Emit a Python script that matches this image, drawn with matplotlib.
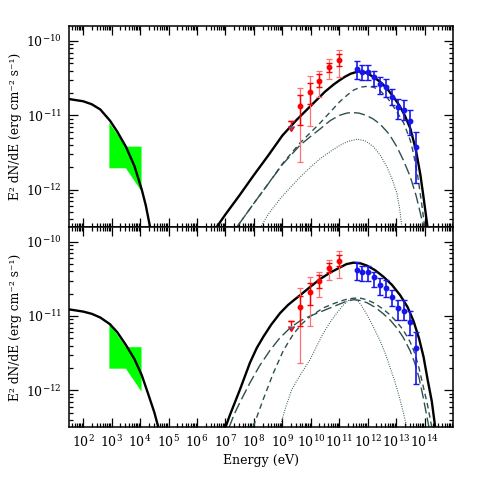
import numpy as np
import matplotlib
matplotlib.use('Agg')
from matplotlib import pyplot as plt
from matplotlib.ticker import FixedLocator, NullFormatter, LogFormatterSciNotation

plt.rcParams['font.family'] = 'DejaVu Serif'
plt.rcParams['mathtext.fontset'] = 'dejavuserif'

# everything stored as log10(E/eV), log10(E^2 dN/dE / erg cm-2 s-1)

# X-ray band (green)
xray_logE = [2.92, 3.5, 4.05, 4.05, 3.5, 2.92]
xray_logF = [-11.10, -11.42, -11.42, -12.02, -11.71, -11.71]

# Fermi points (red): value, inner (stat) and outer (sys) bounds
fermi_logE = [9.63, 9.96, 10.30, 10.65, 10.99]
fermi_logF = [-10.88, -10.68, -10.533, -10.353, -10.255]
fermi_stat_lo = [-11.13, -10.85, -10.62, -10.41, -10.33]
fermi_stat_hi = [-10.725, -10.56, -10.443, -10.291, -10.179]
fermi_sys_lo = [-11.63, -11.14, -10.75, -10.51, -10.49]
fermi_sys_hi = [-10.627, -10.47, -10.407, -10.246, -10.121]
ul_logE = [9.30]
ul_logF = [-11.07]

# TeV points (blue)
tev_logE = [11.61, 11.80, 12.01, 12.22, 12.44, 12.65, 12.86, 13.07, 13.28, 13.49, 13.70]
tev_logF = [-10.38, -10.41, -10.41, -10.48, -10.58, -10.62, -10.75, -10.89, -10.93, -11.08, -11.43]
tev_lo = [-10.51, -10.53, -10.53, -10.61, -10.71, -10.75, -10.86, -11.05, -11.06, -11.26, -11.91]
tev_hi = [-10.27, -10.32, -10.32, -10.40, -10.49, -10.51, -10.65, -10.78, -10.79, -10.93, -11.22]

# model A (upper panel)
syncA_logE = [1.5, 2.0, 2.3, 2.6, 2.94, 3.2, 3.5, 3.8, 4.06, 4.2, 4.35]
syncA_logF = [-10.78, -10.81, -10.85, -10.92, -11.07, -11.22, -11.42, -11.68, -12.0, -12.21, -12.5]
totA_logE = [6.69, 7.0, 7.5, 8.0, 8.5, 9.0, 9.5, 10.0, 10.5, 10.8, 11.0, 11.2, 11.4, 11.66,
             11.9, 12.1, 12.3, 12.5, 12.7, 12.9, 13.1, 13.3, 13.5, 13.7, 13.85, 13.96, 14.1]
totA_logF = [-12.5, -12.33, -12.07, -11.8, -11.54, -11.27, -11.06, -10.87, -10.68, -10.585,
             -10.53, -10.48, -10.44, -10.41, -10.42, -10.46, -10.51, -10.57, -10.65, -10.75,
             -10.86, -11.0, -11.18, -11.48, -11.8, -12.1, -12.5]
shortA_logE = [7.4, 8.0, 8.5, 9.0, 9.62, 10.33, 11.03, 11.3, 11.5, 11.75, 11.97, 12.2, 12.44,
               12.7, 12.9, 13.1, 13.26, 13.49, 13.6, 13.75, 13.9, 14.0]
shortA_logF = [-12.5, -12.18, -11.92, -11.65, -11.37, -11.1, -10.81, -10.72, -10.66, -10.62,
               -10.61, -10.62, -10.67, -10.77, -10.88, -11.0, -11.1, -11.33, -11.5, -11.8,
               -12.2, -12.5]
longA_logE = [7.4, 8.0, 8.5, 9.0, 9.62, 10.0, 10.33, 10.68, 11.0, 11.25, 11.45, 11.7, 11.95,
              12.2, 12.44, 12.75, 13.02, 13.25, 13.49, 13.7, 13.84, 13.96]
longA_logF = [-12.5, -12.18, -11.92, -11.66, -11.4, -11.28, -11.18, -11.07, -11.0, -10.97,
              -10.96, -10.97, -11.0, -11.05, -11.12, -11.25, -11.42, -11.6, -11.82, -12.08,
              -12.3, -12.5]
dotA_logE = [8.22, 8.5, 8.92, 9.3, 9.62, 10.0, 10.33, 10.7, 11.03, 11.3, 11.62, 11.9, 12.2,
             12.45, 12.67, 12.85, 13.02, 13.12, 13.2]
dotA_logF = [-12.51, -12.33, -12.12, -11.96, -11.83, -11.69, -11.58, -11.48, -11.40, -11.35,
             -11.32, -11.34, -11.42, -11.54, -11.69, -11.85, -12.04, -12.25, -12.51]

# model B (lower panel)
syncB_logE = [1.5, 2.0, 2.3, 2.6, 2.94, 3.2, 3.5, 3.8, 4.06, 4.3, 4.5, 4.64]
syncB_logF = [-10.91, -10.94, -10.97, -11.02, -11.11, -11.22, -11.39, -11.58, -11.8, -12.07,
              -12.3, -12.5]
totB_logE = [7.0, 7.16, 7.51, 7.86, 8.1, 8.33, 8.6, 8.92, 9.2, 9.39, 9.62, 10.0, 10.33, 10.7,
             11.0, 11.25, 11.5, 11.75, 11.97, 12.25, 12.55, 12.85, 13.14, 13.4, 13.61, 13.8,
             13.96, 14.1, 14.25, 14.37]
totB_logF = [-12.5, -12.33, -11.99, -11.63, -11.43, -11.28, -11.12, -10.96, -10.85, -10.79,
             -10.72, -10.6, -10.5, -10.41, -10.35, -10.3, -10.28, -10.29, -10.32, -10.38,
             -10.47, -10.58, -10.72, -10.88, -11.07, -11.3, -11.55, -11.85, -12.15, -12.5]
shortB_logE = [7.98, 8.33, 8.68, 9.04, 9.39, 9.7, 10.0, 10.44, 10.75, 11.03, 11.3, 11.5, 11.75,
               11.97, 12.25, 12.55, 12.8, 13.02, 13.25, 13.49, 13.65, 13.8, 13.95, 14.1, 14.25]
shortB_logF = [-12.49, -12.12, -11.77, -11.46, -11.24, -11.1, -11.0, -10.89, -10.84, -10.8,
               -10.77, -10.76, -10.76, -10.78, -10.83, -10.91, -10.99, -11.08, -11.19, -11.35,
               -11.5, -11.7, -11.95, -12.2, -12.5]
longB_logE = [7.13, 7.3, 7.5, 7.86, 8.2, 8.57, 8.9, 9.27, 9.6, 9.97, 10.3, 10.68, 11.0, 11.26,
              11.5, 11.75, 11.97, 12.25, 12.55, 12.8, 13.02, 13.25, 13.49, 13.65, 13.8, 13.95,
              14.05, 14.15]
longB_logF = [-12.5, -12.33, -12.17, -11.9, -11.67, -11.46, -11.3, -11.16, -11.07, -11.0,
              -10.95, -10.89, -10.84, -10.8, -10.78, -10.79, -10.82, -10.88, -10.97, -11.06,
              -11.16, -11.29, -11.47, -11.63, -11.83, -12.1, -12.3, -12.5]
dotB_logE = [8.92, 9.1, 9.33, 9.65, 9.97, 10.2, 10.44, 10.7, 10.91, 11.1, 11.26, 11.4, 11.56,
             11.75, 11.97, 12.2, 12.44, 12.62, 12.79, 12.95, 13.1, 13.25, 13.37]
dotB_logF = [-12.49, -12.25, -11.99, -11.78, -11.59, -11.41, -11.23, -11.07, -10.96, -10.87,
             -10.81, -10.77, -10.76, -10.84, -10.98, -11.15, -11.34, -11.51, -11.7, -11.88,
             -12.08, -12.3, -12.5]

models = [
    (syncA_logE, syncA_logF, totA_logE, totA_logF, shortA_logE, shortA_logF,
     longA_logE, longA_logF, dotA_logE, dotA_logF),
    (syncB_logE, syncB_logF, totB_logE, totB_logF, shortB_logE, shortB_logF,
     longB_logE, longB_logF, dotB_logE, dotB_logF),
]

x_major = [10.0**k for k in range(2, 15)]
x_minor = [m * 10.0**k for k in range(1, 15) for m in range(2, 10)]
y_major = [1e-12, 1e-11, 1e-10]
y_minor = [m * 10.0**k for k in range(-13, -10) for m in range(2, 10)]

def p(a):
    return 10**np.array(a)

fig = plt.figure(figsize=(4.79, 4.79), dpi=100)
axes = [fig.add_axes([0.144, 0.526, 0.802, 0.4195]),
        fig.add_axes([0.144, 0.108, 0.802, 0.418])]

grey = '#2f4f4f'
for i, ax in enumerate(axes):
    sE, sF, tE, tF, shE, shF, lE, lF, dE, dF = models[i]
    ax.set_xscale('log')
    ax.set_yscale('log')

    ax.fill(p(xray_logE), p(xray_logF), color='#00ff00', lw=0, zorder=1)

    ax.plot(p(shE), p(shF), color=grey, lw=1.0, dashes=(4, 2.8), zorder=2)
    ax.plot(p(lE), p(lF), color=grey, lw=1.0, dashes=(8, 3), zorder=2)
    ax.plot(p(dE), p(dF), color=grey, lw=0.8, dashes=(0.8, 1.3), zorder=2)
    ax.plot(p(sE), p(sF), color='k', lw=1.7, zorder=3)
    ax.plot(p(tE), p(tF), color='k', lw=1.7, zorder=3)

    fE = p(fermi_logE)
    fF = p(fermi_logF)
    ax.errorbar(fE, fF, yerr=[fF - p(fermi_sys_lo), p(fermi_sys_hi) - fF], fmt='none',
                ecolor='#ff7070', elinewidth=0.9, capsize=2.5, capthick=0.9, zorder=4)
    ax.errorbar(fE, fF, yerr=[fF - p(fermi_stat_lo), p(fermi_stat_hi) - fF], fmt='o',
                color='#ff0000', ms=3.2, elinewidth=1.0, capsize=2.5, capthick=1.0, zorder=5)
    uF = p(ul_logF)
    ax.errorbar(p(ul_logE), uF, yerr=uF * 0.15, uplims=True, fmt='none', ecolor='#ff0000',
                elinewidth=1.0, capsize=2.5, zorder=5)
    ax.plot(p(ul_logE), uF, marker='_', ms=5, color='#ff0000', mew=1.0, zorder=5)

    bE = p(tev_logE)
    bF = p(tev_logF)
    ax.errorbar(bE, bF, yerr=[bF - p(tev_lo), p(tev_hi) - bF], fmt='o', color='#1515f0',
                ms=3.2, elinewidth=1.2, capsize=2.5, capthick=1.0, zorder=5)

    ax.set_xlim(10**1.5, 1e15)
    ax.set_ylim(10**-12.5, 10**-9.8)
    ax.xaxis.set_major_locator(FixedLocator(x_major))
    ax.xaxis.set_minor_locator(FixedLocator(x_minor))
    ax.yaxis.set_major_locator(FixedLocator(y_major))
    ax.yaxis.set_minor_locator(FixedLocator(y_minor))
    ax.xaxis.set_major_formatter(LogFormatterSciNotation())
    ax.yaxis.set_major_formatter(LogFormatterSciNotation())
    ax.xaxis.set_minor_formatter(NullFormatter())
    ax.yaxis.set_minor_formatter(NullFormatter())
    ax.tick_params(which='both', direction='in', top=True, right=True, labelsize=9, width=0.9)
    ax.tick_params(which='major', length=6.5, pad=5)
    ax.tick_params(which='minor', length=3)
    for s in ax.spines.values():
        s.set_linewidth(1.1)
    ax.set_ylabel('E² dN/dE (erg cm⁻² s⁻¹)', fontsize=8.8, labelpad=3)
    if i == 0:
        ax.tick_params(labelbottom=False)

axes[1].set_xlabel('Energy (eV)', fontsize=9, labelpad=3)

fig.savefig('out.png', dpi=100)
